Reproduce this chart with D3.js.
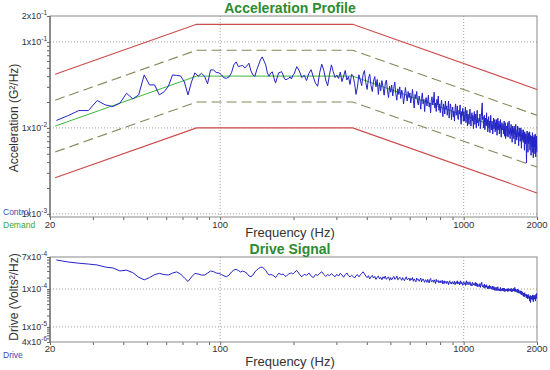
<!DOCTYPE html>
<html>
<head>
<meta charset="utf-8">
<script src="https://cdn.jsdelivr.net/npm/d3@7"></script>
<style>
  body { margin: 0; background: #fff; }
  svg { display: block; font-family: Arial, "Liberation Sans", sans-serif; }
</style>
</head>
<body>
<div class="container"></div>
<script>
// test profile breakpoints (Hz) and levels (G²/Hz)
const profileFreq = [21, 80, 350, 2000];
const demand      = [0.0105, 0.04, 0.04, 0.007];
const alarmHigh   = [0.021, 0.08, 0.08, 0.014];
const alarmLow    = [0.00525, 0.02, 0.02, 0.0035];
const abortHigh   = [0.042, 0.16, 0.16, 0.028];
const abortLow    = [0.002625, 0.01, 0.01, 0.00175];

// spectral lines: 2.5 Hz bins below 200 Hz, every other bin above
const lowFreqs  = d3.range(21.25, 200, 2.5);
const highFreqs = d3.range(201.25, 2000, 5);

// control spectrum, in 1e-3 G²/Hz
const controlLow = [
  12.2, 13.9, 15.9, 15.9, 20.8, 18.5, 17.7, 19.4, 25.3, 21.7,
  24.2, 41.3, 31.6, 31.6, 24.2, 26.2, 30.5, 41.3, 40.7, 40.2,
  34.3, 24.2, 34.3, 43.7, 39.9, 43.1, 39.9, 32.5, 47.2, 47.2,
  44.2, 43.7, 41.3, 38.1, 37.8, 39.2, 43.7, 54.0, 58.5, 51.6,
  52.6, 53.3, 49.8, 52.6, 56.5, 46.0, 41.3, 39.7, 47.2, 54.0,
  61.7, 66.9, 60.1, 54.0, 43.6, 39.9, 43.6, 44.8, 38.1, 33.2,
  38.1, 43.7, 44.2, 45.1, 41.3, 37.1, 36.2, 37.1, 37.8, 39.2,
  37.1, 40.8
];
const controlHigh = [
  42.5, 51.6, 46.0, 38.5, 41.0, 35.5, 43.0, 47.5, 39.0, 33.0,
  30.5, 44.0, 55.0, 47.0, 36.0, 30.8, 42.0, 54.0, 45.0, 38.5,
  41.0, 37.5, 44.5, 34.5, 40.0, 46.5, 36.0, 39.5, 32.0, 42.0,
  40.5, 33.0, 24.5, 30.0, 41.5, 36.0, 31.0, 42.0, 46.5, 33.5,
  28.0, 37.5, 42.0, 31.0, 26.5, 35.0, 39.5, 30.0, 36.5, 24.5,
  33.5, 27.0, 35.5, 30.0, 24.0, 32.5, 36.0, 27.5, 22.5, 30.5,
  26.0, 31.5, 23.5, 29.0, 34.0, 25.0, 21.0, 28.5, 24.5, 30.0,
  22.0, 27.5, 25.0, 19.0, 23.5, 29.5, 24.0, 20.5, 26.5, 22.5,
  25.5, 19.5, 23.0, 28.0, 21.0, 17.0, 24.5, 22.0, 26.5, 20.0,
  18.5, 23.5, 21.0, 16.5, 22.0, 25.5, 19.0, 21.5, 15.5, 20.5,
  22.5, 18.0, 20.5, 24.0, 17.5, 19.5, 15.0, 21.0, 23.0, 18.5,
  20.0, 26.0, 17.0, 19.5, 15.5, 21.5, 18.5, 23.5, 16.0, 19.0,
  15.0, 18.5, 21.0, 16.0, 13.5, 19.0, 17.5, 14.5, 20.5, 16.5,
  18.0, 14.0, 16.5, 20.5, 13.0, 15.5, 19.0, 17.0, 12.5, 16.0,
  17.5, 13.5, 15.5, 12.0, 16.5, 19.0, 14.0, 15.0, 18.0, 13.0,
  12.5, 16.0, 14.5, 18.5, 13.0, 11.0, 15.5, 14.0, 17.0, 12.0,
  15.5, 12.0, 14.0, 17.5, 11.5, 13.5, 16.0, 10.5, 14.5, 13.0,
  11.0, 14.5, 16.5, 12.5, 10.5, 13.5, 15.0, 12.0, 14.0, 9.8,
  13.5, 15.5, 11.0, 12.5, 14.5, 10.0, 13.0, 16.0, 11.5, 12.0,
  10.5, 13.0, 12.0, 14.5, 9.8, 11.5, 13.5, 17.0, 19.5, 12.5,
  13.5, 10.0, 12.0, 14.0, 9.5, 11.5, 13.0, 10.5, 15.0, 11.0,
  12.5, 9.0, 11.5, 13.5, 10.0, 12.0, 8.8, 11.0, 14.0, 10.5,
  9.5, 12.0, 11.0, 8.5, 10.5, 13.0, 9.8, 11.5, 12.5, 9.0,
  11.5, 9.5, 12.5, 10.0, 8.2, 11.0, 13.0, 9.5, 10.5, 12.0,
  8.5, 11.0, 10.0, 12.5, 9.0, 7.8, 10.5, 11.5, 9.5, 10.0,
  11.0, 8.5, 9.8, 12.0, 8.0, 10.0, 11.5, 7.5, 9.5, 10.5,
  10.5, 8.0, 9.5, 11.5, 7.8, 9.0, 10.0, 12.0, 8.5, 9.2,
  7.5, 10.0, 9.0, 11.0, 8.2, 9.5, 6.8, 10.5, 8.8, 9.8,
  9.8, 7.5, 10.5, 8.5, 9.2, 6.5, 9.0, 11.0, 8.0, 8.6,
  7.2, 9.5, 8.5, 10.5, 7.8, 8.8, 6.2, 9.2, 10.0, 8.0,
  9.0, 7.0, 8.5, 10.0, 7.5, 5.8, 8.8, 9.5, 7.2, 8.4,
  8.8, 6.8, 9.5, 7.5, 8.2, 5.5, 9.0, 7.8, 8.5, 6.5,
  8.5, 6.0, 3.9, 7.5, 9.2, 6.8, 8.0, 5.2, 8.8, 7.2,
  6.5, 8.5, 7.0, 9.0, 5.5, 7.8, 8.2, 6.2, 4.8, 7.5,
  8.0, 6.0, 7.5, 8.8, 5.2, 7.0, 4.5, 7.8, 6.5, 8.2,
  6.0, 7.8, 5.0, 8.5, 6.5, 4.6, 7.2, 5.5, 8.0, 5.2
];

// drive spectrum, in 1e-5 Volts²/Hz
const driveLow = [
  58.4, 51.7, 48.0, 45.6, 43.1, 38.0, 36.0, 30.0, 31.5, 27.0,
  20.5, 17.5, 20.0, 24.0, 25.9, 24.1, 23.4, 26.4, 28.3, 24.9,
  19.6, 15.8, 20.8, 25.9, 24.9, 23.4, 23.4, 26.4, 29.8, 29.0,
  26.4, 25.9, 24.1, 22.1, 21.2, 23.4, 28.1, 31.7, 33.0, 30.8,
  28.1, 29.8, 28.3, 26.0, 22.1, 21.2, 23.4, 28.1, 31.7, 34.8,
  37.3, 37.7, 34.8, 30.8, 26.4, 23.4, 24.1, 23.4, 22.1, 20.2,
  22.8, 26.0, 24.9, 24.1, 24.9, 22.8, 21.4, 23.4, 24.9, 26.0,
  26.4, 24.9
];
const driveHigh = [
  27.0, 31.0, 25.0, 21.0, 24.5, 23.0, 26.5, 22.0, 20.0, 24.0,
  23.0, 26.0, 28.5, 24.5, 21.5, 24.0, 22.5, 25.5, 23.0, 21.0,
  24.5, 22.0, 26.0, 23.5, 20.5, 24.0, 26.5, 22.5, 21.0, 23.0,
  21.5, 19.5, 22.5, 24.0, 21.0, 23.5, 26.0, 28.5, 25.0, 22.0,
  20.0, 22.5, 18.5, 21.0, 23.0, 19.5, 21.5, 18.0, 20.5, 22.0,
  18.5, 20.5, 17.5, 21.0, 19.0, 22.0, 18.0, 19.5, 21.0, 17.0,
  20.0, 17.5, 19.5, 21.5, 18.0, 19.0, 22.0, 17.5, 18.5, 20.5,
  19.0, 17.0, 20.0, 18.0, 16.5, 19.5, 21.0, 17.5, 18.5, 19.5,
  16.5, 19.0, 17.5, 20.0, 16.0, 18.5, 17.0, 15.5, 19.5, 17.5,
  18.0, 16.0, 17.5, 19.5, 15.5, 17.0, 18.5, 16.5, 15.0, 17.5,
  17.0, 15.0, 18.0, 16.5, 14.5, 17.5, 19.0, 15.5, 16.0, 17.0,
  15.0, 17.5, 16.0, 14.0, 18.0, 15.5, 16.5, 17.0, 14.5, 16.0,
  16.5, 14.5, 15.5, 17.0, 13.5, 15.0, 16.5, 14.0, 15.5, 16.0,
  14.0, 16.0, 15.0, 13.0, 15.5, 16.5, 14.0, 15.0, 13.5, 15.5,
  15.5, 13.5, 14.5, 16.0, 13.0, 14.5, 15.5, 14.0, 16.5, 13.5,
  14.0, 15.5, 13.0, 14.5, 16.5, 13.5, 15.0, 14.0, 12.5, 15.0,
  15.5, 13.5, 14.5, 12.5, 15.0, 16.5, 13.0, 14.0, 15.5, 13.5,
  13.0, 14.5, 15.5, 12.5, 14.0, 13.5, 12.0, 15.0, 14.0, 13.0,
  14.0, 12.5, 13.5, 15.0, 12.0, 13.0, 14.5, 11.5, 13.5, 12.5,
  13.0, 11.5, 12.5, 14.0, 11.0, 12.5, 13.5, 15.0, 12.0, 11.5,
  12.5, 11.0, 12.0, 13.5, 10.5, 11.5, 12.5, 11.0, 13.0, 11.5,
  11.5, 10.0, 12.0, 10.5, 11.5, 12.5, 10.0, 11.0, 12.0, 10.5,
  11.0, 9.8, 10.5, 12.0, 9.5, 10.5, 11.5, 10.0, 9.2, 11.0,
  10.5, 9.2, 11.0, 10.0, 9.0, 10.5, 11.5, 9.5, 10.0, 9.0,
  10.0, 9.0, 10.5, 11.0, 8.8, 9.5, 10.0, 9.2, 10.5, 9.0,
  9.5, 10.5, 8.8, 9.8, 10.5, 8.5, 9.5, 10.0, 9.0, 9.8,
  9.0, 10.0, 9.5, 8.5, 10.5, 9.2, 8.8, 10.0, 9.5, 9.0,
  10.0, 8.8, 9.5, 10.5, 8.5, 9.2, 9.8, 8.6, 9.5, 10.0,
  9.0, 10.5, 8.8, 9.5, 11.0, 8.5, 9.2, 10.0, 8.6, 9.4,
  9.5, 8.2, 9.0, 10.0, 8.0, 8.8, 9.5, 7.8, 8.6, 9.0,
  8.5, 7.5, 8.2, 9.0, 7.2, 8.0, 8.8, 7.0, 7.8, 8.2,
  7.5, 6.5, 7.8, 7.0, 6.2, 7.5, 8.0, 6.6, 7.2, 6.8,
  6.8, 6.0, 7.2, 5.8, 6.6, 7.0, 5.5, 6.4, 7.2, 6.0,
  6.5, 5.6, 6.2, 4.8, 6.0, 6.8, 4.4, 5.8, 6.4, 5.5,
  5.8, 6.6, 5.2, 6.2, 7.0, 5.5, 4.6, 6.0, 6.8, 5.6,
  6.2, 5.4, 6.8, 5.8, 4.8, 6.4, 7.2, 5.6, 7.6, 7.0
];

const freqLabels = [20, 100, 1000, 2000];
const freqGrid = [100, 1000];
const accelTicks = [0.2, 0.1, 0.01, 0.001];
const accelGrid = [0.1, 0.01, 0.001];
const driveTicks = [7e-4, 1e-4, 1e-5, 4e-6];
const driveGrid = [1e-4, 1e-5];

const freqs = lowFreqs.concat(highFreqs);
const control = controlLow.concat(controlHigh).map(v => v / 1000);
const drive = driveLow.concat(driveHigh).map(v => v / 1e5);

const width = 550, height = 370;
const left = 50, right = 537;
const titleGreen = "#2e8b2e";
const traceBlue = "#2323c8";

let svg = d3.select(".container").append("svg")
  .attr("width", width)
  .attr("height", height)
  .style("background", "#fff");

const x = d3.scaleLog().domain([20, 2000]).range([left, right]);

function sciLabel(sel) {
  // "2x10" with a raised exponent
  sel.each(function(d) {
    const e = Math.floor(Math.log10(d) + 1e-9);
    const m = Math.round(d / Math.pow(10, e));
    const t = d3.select(this);
    t.append("tspan").text(m + "x10");
    t.append("tspan").attr("dy", -4).attr("font-size", 6.5).text(e);
  });
}

function drawPanel(cfg) {
  const y = d3.scaleLog().domain(cfg.yDomain).range([cfg.bottom, cfg.top]);
  const g = svg.append("g");

  // dotted grid
  g.selectAll(null).data(cfg.grid).enter().append("line")
    .attr("x1", left).attr("x2", right)
    .attr("y1", d => y(d)).attr("y2", d => y(d))
    .attr("stroke", "#a0a0a0").attr("stroke-dasharray", "1,2");
  g.selectAll(null).data(freqGrid).enter().append("line")
    .attr("x1", d => x(d)).attr("x2", d => x(d))
    .attr("y1", cfg.top).attr("y2", cfg.bottom)
    .attr("stroke", "#a0a0a0").attr("stroke-dasharray", "1,2");

  // small ticks from the log scales
  const yMinor = y.ticks().filter(d => y(d) >= cfg.top - 0.5 && y(d) <= cfg.bottom + 0.5);
  g.append("g")
    .attr("transform", `translate(${left},0)`)
    .call(d3.axisLeft(y).tickValues(yMinor).tickSize(3).tickFormat(""))
    .call(a => a.select(".domain").remove())
    .selectAll("line").attr("stroke", "#666");
  g.append("g")
    .attr("transform", `translate(0,${cfg.bottom})`)
    .call(d3.axisBottom(x).tickValues(x.ticks()).tickSize(3).tickFormat(""))
    .call(a => a.select(".domain").remove())
    .selectAll("line").attr("stroke", "#666");

  // frame
  g.append("rect")
    .attr("x", left).attr("y", cfg.top)
    .attr("width", right - left).attr("height", cfg.bottom - cfg.top)
    .attr("fill", "none").attr("stroke", "#8a8a8a");
  g.append("line")
    .attr("x1", left).attr("x2", left).attr("y1", cfg.top).attr("y2", cfg.bottom)
    .attr("stroke", "#555");

  // tick labels
  g.selectAll(null).data(cfg.ticks).enter().append("text")
    .attr("x", left - 3).attr("y", d => y(d) + 3)
    .attr("text-anchor", "end").attr("font-size", 9).attr("fill", "#333")
    .call(sciLabel);
  g.selectAll(null).data(freqLabels).enter().append("text")
    .attr("x", d => x(d)).attr("y", cfg.bottom + cfg.xLabelGap)
    .attr("text-anchor", "middle").attr("font-size", 9.5).attr("fill", "#333")
    .text(d => d);

  // titles
  g.append("text")
    .attr("x", 290).attr("y", cfg.titleY)
    .attr("text-anchor", "middle").attr("font-size", 14).attr("font-weight", "bold")
    .attr("fill", titleGreen).text(cfg.title);
  g.append("text")
    .attr("x", 290).attr("y", cfg.xTitleY)
    .attr("text-anchor", "middle").attr("font-size", 13).attr("fill", "#333")
    .text("Frequency (Hz)");
  g.append("text")
    .attr("transform", `translate(18,${cfg.yTitleMid}) rotate(-90)`)
    .attr("text-anchor", "middle").attr("font-size", 12).attr("fill", "#333")
    .text(cfg.yTitle);

  return {g: g, y: y};
}

function trace(panel, fs, vs, color, widthPx, dash) {
  const y = panel.y;
  const line = d3.line().x(d => x(d[0])).y(d => y(d[1]));
  panel.g.append("path")
    .datum(d3.zip(fs, vs))
    .attr("d", line)
    .attr("fill", "none")
    .attr("stroke", color)
    .attr("stroke-width", widthPx)
    .attr("stroke-dasharray", dash || null);
}

// acceleration profile
const accel = drawPanel({
  top: 16, bottom: 217, yDomain: [9.2e-4, 0.2],
  grid: accelGrid, ticks: accelTicks, xLabelGap: 11,
  title: "Acceleration Profile", titleY: 13, xTitleY: 237,
  yTitle: "Acceleration (G\u00B2/Hz)", yTitleMid: 118
});
trace(accel, profileFreq, abortHigh, "#cc4a4a", 1.1);
trace(accel, profileFreq, abortLow, "#cc4a4a", 1.1);
trace(accel, profileFreq, alarmHigh, "#87875a", 1.1, "10,5");
trace(accel, profileFreq, alarmLow, "#87875a", 1.1, "10,5");
trace(accel, profileFreq, demand, "#3cb83c", 1);
trace(accel, freqs, control, traceBlue, 1);

// drive signal
const drv = drawPanel({
  top: 257, bottom: 342, yDomain: [4e-6, 7e-4],
  grid: driveGrid, ticks: driveTicks, xLabelGap: 10,
  title: "Drive Signal", titleY: 254, xTitleY: 366,
  yTitle: "Drive (Volts\u00B2/Hz)", yTitleMid: 297
});
trace(drv, freqs, drive, traceBlue, 1);

// channel names
const legend = [
  {name: "Control", color: "#4646b4", y: 215},
  {name: "Demand", color: "#36a836", y: 228},
  {name: "Drive", color: "#4646b4", y: 358}
];
svg.selectAll(null).data(legend).enter().append("text")
  .attr("x", 3).attr("y", d => d.y)
  .attr("font-size", 8.5).attr("fill", d => d.color)
  .text(d => d.name);
</script>
</body>
</html>
